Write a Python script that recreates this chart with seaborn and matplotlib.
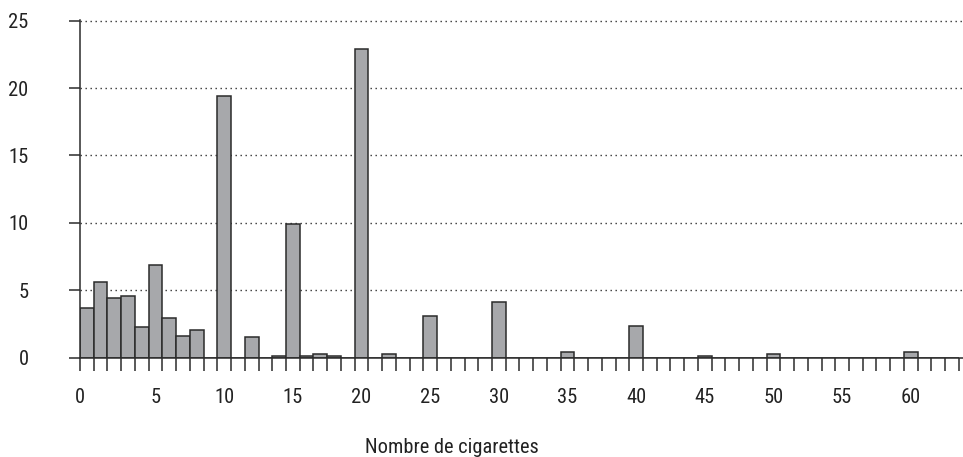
import numpy as np
import matplotlib
matplotlib.use("Agg")
import matplotlib.pyplot as plt
import seaborn as sns
from matplotlib.ticker import FixedLocator, NullFormatter

categories = list(range(64))
values = [3.7, 5.6, 4.4, 4.6, 2.3, 6.9, 2.95, 1.6, 2.05, 0,
          19.4, 0, 1.5, 0, 0.13, 9.9, 0.13, 0.3, 0.13, 0,
          22.9, 0, 0.3, 0, 0, 3.1, 0, 0, 0, 0,
          4.1, 0, 0, 0, 0, 0.45, 0, 0, 0, 0,
          2.35, 0, 0, 0, 0, 0.15, 0, 0, 0, 0,
          0.3, 0, 0, 0, 0, 0, 0, 0, 0, 0,
          0.45, 0, 0, 0]
x_tick_labels = ["0", "5", "10", "15", "20", "25", "30", "35", "40", "45", "50", "55", "60"]
y_ticks = [0, 5, 10, 15, 20, 25]
x_title = "Nombre de cigarettes"

sns.set_style("white")
plt.rcParams['font.family'] = ['Roboto Condensed', 'Liberation Sans Narrow',
                               'Open Sans Condensed', 'Roboto', 'DejaVu Sans']

W, H = 963, 457
fig = plt.figure(figsize=(W / 100, H / 100), dpi=100)
ax = fig.add_axes([80 / W, 1 - 357.7 / H, (963 - 80) / W, (357.7 - 20) / H])

sns.barplot(x=categories, y=values, color="#a7a8ab", saturation=1,
            edgecolor="#2b2b2b", linewidth=1.1, width=1.0, ax=ax, zorder=3)

ax.set_xlim(-0.5, 63.8)
ax.set_ylim(0, 25.05)

# y axis
ax.set_yticks(y_ticks)
ax.set_yticklabels([str(v) for v in y_ticks])
for yv in y_ticks[1:]:
    ax.axhline(yv, color="#333333", lw=1.0, ls=(0, (1, 2.6)), zorder=1, clip_on=False)

# x axis: boundary ticks, labels at every 5
ax.xaxis.remove_overlapping_locs = False
ax.xaxis.set_major_locator(FixedLocator(np.arange(-0.5, 64, 1)))
ax.xaxis.set_major_formatter(NullFormatter())
label_pos = [int(t) for t in x_tick_labels]
label_pos[0] = -0.5
ax.xaxis.set_minor_locator(FixedLocator(label_pos))
ax.set_xticklabels(x_tick_labels, minor=True)

ax.tick_params(axis="x", which="major", direction="out", length=9, width=1.1,
               color="#2b2b2b", bottom=True)
ax.tick_params(axis="x", which="minor", length=0, pad=21.5, labelsize=14.8,
               labelcolor="#222222", bottom=True)
ax.tick_params(axis="y", which="major", direction="out", length=8, width=1.1,
               color="#2b2b2b", pad=29, labelsize=14.8, labelcolor="#222222", left=True)

for s in ["top", "right"]:
    ax.spines[s].set_visible(False)
for s in ["left", "bottom"]:
    ax.spines[s].set_color("#2b2b2b")
    ax.spines[s].set_linewidth(1.1)
    ax.spines[s].set_zorder(4)

ax.set_xlabel("")
ax.set_ylabel("")
fig.text(452 / W, 1 - 453 / H, x_title, fontsize=14.7, color="#222222",
         ha="center", va="baseline")

fig.savefig("out.png", dpi=100)
